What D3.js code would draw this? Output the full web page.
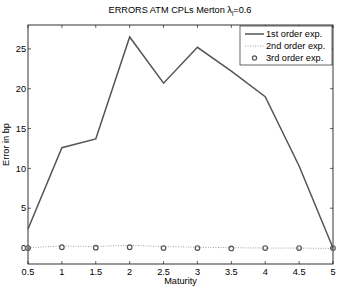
<!DOCTYPE html>
<html><head><meta charset="utf-8">
<script src="https://cdn.jsdelivr.net/npm/d3@7"></script>
<style>body{margin:0;background:#fff}svg{display:block;font-family:"Liberation Sans",Arial,sans-serif}</style>
</head><body><svg id="c" width="341" height="290"></svg>
<script>
const maturities = [0.5,1,1.5,2,2.5,3,3.5,4,4.5,5];
const firstOrder = [2.4,12.6,13.7,26.5,20.7,25.2,22.2,19.0,10.3,0.0];
const secondOrder = [0.05,0.25,0.2,0.35,0.2,0.1,0.05,0.0,0.0,-0.05];
const thirdOrder = [0.0,0.1,0.05,0.1,0.0,0.0,-0.05,0.0,0.0,0.0];
const xTicks = [0.5,1,1.5,2,2.5,3,3.5,4,4.5,5];
const yTicks = [0,5,10,15,20,25];
const legendLabels = ["1st order exp.","2nd order exp.","3rd order exp."];

const svg = d3.select("#c");
const L=28, R=333, T=25, B=264;
const x = d3.scaleLinear().domain([0.5,5]).range([L,R]);
const y = d3.scaleLinear().domain([-2,28]).range([B,T]);
const col="#555";
const fs=9.2;

const g = svg.append("g");
xTicks.forEach(t=>{
  g.append("line").attr("x1",x(t)).attr("x2",x(t)).attr("y1",B).attr("y2",B-3).attr("stroke","#000").attr("stroke-width",0.6);
  g.append("line").attr("x1",x(t)).attr("x2",x(t)).attr("y1",T).attr("y2",T+3).attr("stroke","#000").attr("stroke-width",0.6);
  g.append("text").attr("x",x(t)).attr("y",B+11).attr("text-anchor","middle").attr("font-size",fs).text(t);
});
yTicks.forEach(t=>{
  g.append("line").attr("x1",L).attr("x2",L+3).attr("y1",y(t)).attr("y2",y(t)).attr("stroke","#000").attr("stroke-width",0.6);
  g.append("line").attr("x1",R).attr("x2",R-3).attr("y1",y(t)).attr("y2",y(t)).attr("stroke","#000").attr("stroke-width",0.6);
  g.append("text").attr("x",L-2).attr("y",y(t)+3.2).attr("text-anchor","end").attr("font-size",fs).text(t);
});
svg.append("rect").attr("x",L).attr("y",T).attr("width",R-L).attr("height",B-T).attr("fill","none").attr("stroke","#000").attr("stroke-width",0.8);

const line = d3.line().x((d,i)=>x(maturities[i])).y(d=>y(d));
svg.append("path").datum(secondOrder).attr("d",line).attr("fill","none").attr("stroke","#888").attr("stroke-width",0.8).attr("stroke-dasharray","1,1.5");
svg.append("path").datum(firstOrder).attr("d",line).attr("fill","none").attr("stroke",col).attr("stroke-width",1.5);
svg.selectAll("circle.p").data(thirdOrder).enter().append("circle").attr("cx",(d,i)=>x(maturities[i])).attr("cy",d=>y(d)).attr("r",2.3).attr("fill","none").attr("stroke",col).attr("stroke-width",1.2);

const lg = svg.append("g");
lg.append("rect").attr("x",240).attr("y",26).attr("width",92).attr("height",39).attr("fill","#fff").attr("stroke","#000").attr("stroke-width",0.6);
const ly=[34,46,58];
lg.append("line").attr("x1",245).attr("x2",264).attr("y1",ly[0]).attr("y2",ly[0]).attr("stroke",col).attr("stroke-width",1.5);
lg.append("line").attr("x1",245).attr("x2",264).attr("y1",ly[1]).attr("y2",ly[1]).attr("stroke","#888").attr("stroke-width",0.8).attr("stroke-dasharray","1,1.5");
lg.append("circle").attr("cx",254.5).attr("cy",ly[2]).attr("r",2.1).attr("fill","none").attr("stroke",col).attr("stroke-width",1.2);
legendLabels.forEach((s,i)=>lg.append("text").attr("x",266).attr("y",ly[i]+3.2).attr("font-size",fs).text(s));

const tt = svg.append("text").attr("x",180).attr("y",13).attr("text-anchor","middle").attr("font-size",fs);
tt.append("tspan").text("ERRORS ATM CPLs Merton λ");
tt.append("tspan").attr("font-size",6.5).attr("dy",2.5).text("l");
tt.append("tspan").attr("dy",-2.5).text("=0.6");

svg.append("text").attr("x",x(2.75)).attr("y",284).attr("text-anchor","middle").attr("font-size",fs).text("Maturity");
svg.append("text").attr("transform",`translate(9,${(T+B)/2}) rotate(-90)`).attr("text-anchor","middle").attr("font-size",fs).text("Error in bp");
</script></body></html>
